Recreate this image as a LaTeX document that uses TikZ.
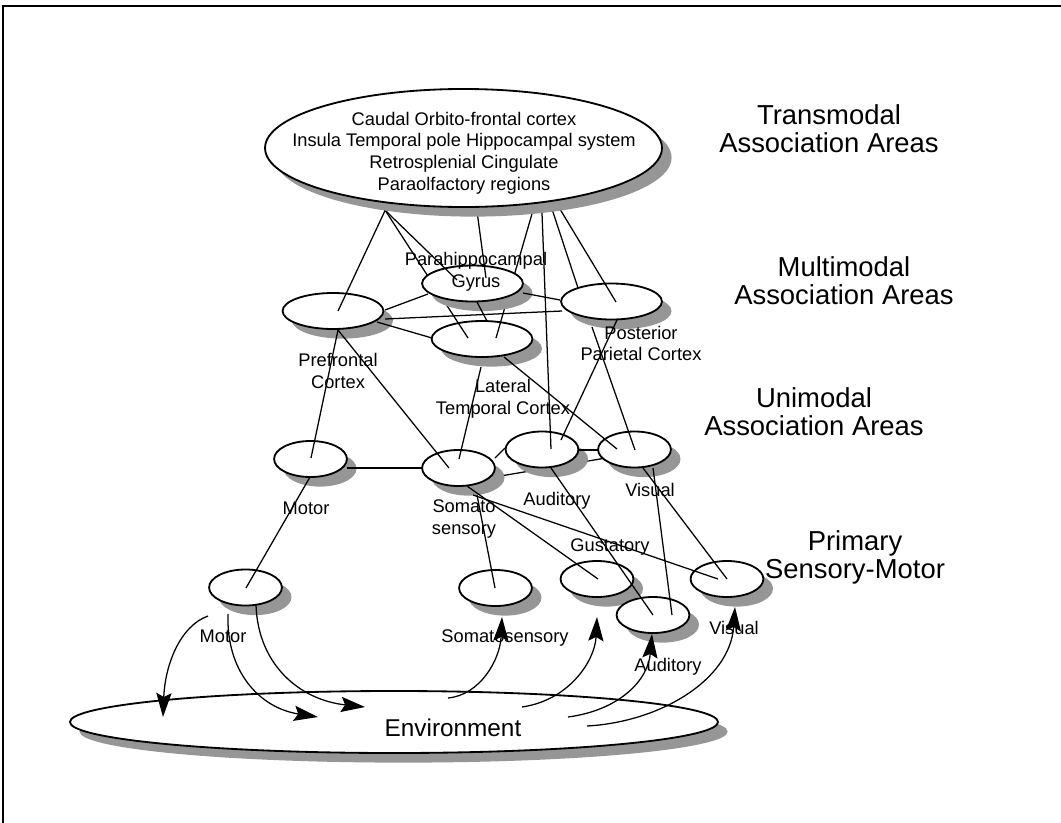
\documentclass[tikz,border=0pt]{standalone}
\usepackage{fontspec}
\setmainfont{Liberation Sans}
\usetikzlibrary{shapes.geometric,shadows,calc,arrows.meta}
\definecolor{shadowgray}{RGB}{150,150,150}
\pgfdeclarelayer{hidden}
\pgfdeclarelayer{front}
\pgfsetlayers{hidden,main,front}

\begin{document}
\begin{tikzpicture}[x=0.025cm,y=-0.025cm,
    blob/.style={ellipse,draw,fill=white,line width=1.3pt,inner sep=0pt,
      drop shadow={shadow xshift=0.24cm,shadow yshift=-0.24cm,fill=shadowgray,opacity=1}},
    multi/.style={blob,minimum width=2.52cm,minimum height=0.9cm},
    uni/.style={blob,minimum width=1.82cm,minimum height=0.9cm},
    wire/.style={line width=0.9pt},
    feed/.style={wire,-{Stealth[length=0.6cm,width=0.38cm,inset=0.1cm]}},
    lbl/.style={font=\fontsize{13}{15.4}\selectfont,align=center,inner sep=0pt},
    tier/.style={font=\fontsize{19.5}{19.8}\selectfont,align=center,inner sep=0pt}]
        \useasboundingbox (0,0) rectangle (1061,823);
        \draw[line width=1.2pt] (3,823) -- (3,6) -- (1061,6);

        \begin{pgfonlayer}{front}
        \node[blob,minimum width=9.92cm,minimum height=2.95cm] (tm) at (463.5,148) {};
        \node[lbl] (tmtext) at (464,153) {Caudal Orbito-frontal cortex\\Insula Temporal pole Hippocampal system\\Retrosplenial Cingulate\\Paraolfactory regions};
        \end{pgfonlayer}

        \node[blob,minimum width=16.2cm,minimum height=1.55cm] (env) at (394,722) {};
        \node[uni] (mp) at (245.5,587.5) {};
        \node[uni] (sp) at (495.5,588) {};
        \node[uni] (gp) at (597,579) {};
        \node[uni] (ap) at (653,615) {};
        \node[uni] (vp) at (727,579) {};
        \node[uni] (mu) at (310.5,459) {};
        \node[uni] (su) at (458.5,468) {};
        \node[uni] (au) at (542,449.5) {};
        \node[uni] (vu) at (634.5,449.5) {};
        \node[multi] (pf) at (333,311) {};
        \node[multi] (pp) at (611.5,301.5) {};
        \node[multi] (lt) at (482,339) {};

        \begin{pgfonlayer}{hidden}
        \draw[wire] ($(su)+(7,14)$) -- ($(vu)+(-14,6)$);
        \end{pgfonlayer}

        \draw[wire] ($(tm)+(-85,52)$) -- ($(lt)+(-14,-1)$);
        \draw[wire] ($(tm)+(72.5,52)$) -- ($(lt)+(14,-1)$);
        \node[multi] (ph) at (472.5,283.5) {};

        \draw[wire] ($(tm)+(-73.5,52)$) -- ($(pf)+(5,0)$);
        \draw[wire] ($(tm)+(-89,52)$) -- ($(ph)+(-15.5,-3.5)$);
        \draw[wire] ($(tm)+(12,52)$) -- ($(ph)+(13.5,-5.5)$);
        \draw[wire] ($(tm)+(78,52)$) -- ($(au)+(9,-0.5)$);
        \draw[wire] ($(tm)+(85.5,52)$) -- ($(pp)+(-33.5,-13.5)$);
        \draw[wire] ($(tm)+(91,52)$) -- ($(pp)+(4.5,0.5)$);

        \draw[wire] ($(pf)+(52,-1)$) -- ($(ph)+(-44.5,10.5)$);
        \draw[wire] ($(pf)+(52,8)$) -- ($(pp)+(-49.5,9.5)$);
        \draw[wire] ($(pf)+(44,11)$) -- ($(lt)+(-50,-1)$);
        \draw[wire] ($(ph)+(50.5,9.5)$) -- ($(pp)+(-51.5,-1.5)$);
        \draw[wire] ($(ph)+(4.5,18.5)$) -- ($(lt)+(5,-18)$);

        \draw[wire] ($(pf)+(5,19)$) -- ($(mu)+(0.5,-1)$);
        \draw[wire] ($(pf)+(5,19)$) -- ($(su)+(-9.5,0)$);
        \draw[wire] ($(lt)+(-1,28)$) -- ($(su)+(0.5,-9)$);
        \draw[wire] ($(lt)+(22,18)$) -- ($(vu)+(-17.5,-0.5)$);
        \draw[wire] ($(pp)+(5.5,18.5)$) -- ($(au)+(19,-9.5)$);
        \draw[wire] ($(pp)+(-19.5,25.5)$) -- ($(vu)+(0.5,0.5)$);

        \draw[wire] ($(mu)+(36.5,9)$) -- ($(su)+(-36.5,0)$);
        \draw[wire] ($(su)+(36.5,-10)$) -- ($(au)+(-37,-1.5)$);
        \draw[wire] ($(au)+(37,0.5)$) -- ($(vu)+(-36.5,0.5)$);

        \draw[wire] ($(mu)+(-0.5,18)$) -- ($(mp)+(0.5,0.5)$);
        \draw[wire] ($(su)+(18.5,27)$) -- ($(sp)+(-0.5,0)$);
        \draw[wire] ($(su)+(8.5,18)$) -- ($(gp)+(1,0)$);
        \draw[wire] ($(su)+(14.5,27)$) -- ($(vp)+(-9,0)$);
        \draw[wire] ($(au)+(9,18.5)$) -- (ap.center);
        \draw[wire] ($(vu)+(18.5,18.5)$) -- ($(ap)+(19,0)$);
        \draw[wire] ($(vu)+(8.5,18.5)$) -- (vp.center);

        \draw[feed] ($(mp)+(-37.5,28.5)$) .. controls +(-28,10) and +(2,-52) .. ($(env)+(-231,-5)$);
        \draw[feed] ($(mp)+(-17.5,26.5)$) .. controls +(-2,58) and +(-58,-9) .. ($(env)+(-76,-5)$);
        \draw[feed] ($(mp)+(10.5,17.5)$) .. controls +(2,60) and +(-65,-7) .. ($(env)+(-29,-15)$);
        \draw[feed] ($(env)+(54,-24)$) .. controls +(32,-3) and +(-2,43) .. ($(sp)+(6.5,29)$);
        \draw[feed] ($(env)+(128,-15)$) .. controls +(48,-7) and +(-2,43) .. ($(gp)+(0,38)$);
        \draw[feed] ($(env)+(174,-5)$) .. controls +(52,-7) and +(-4,46) .. ($(ap)+(-1,19)$);
        \draw[feed] ($(env)+(193,4)$) .. controls +(73,-4) and +(-5,73) .. ($(vp)+(8,28)$);

        \node[tier] (transmodal) at (829,129) {Transmodal\\Association Areas};
        \node[tier] (multimodal) at (844,281) {Multimodal\\Association Areas};
        \node[tier] (unimodal) at (814,412) {Unimodal\\Association Areas};
        \node[tier] (primary) at (855,557) {Primary\\Sensory-Motor};
        \node[font=\fontsize{17.3}{20}\selectfont,inner sep=0pt] (envtext) at (453,728) {Environment};

        \node[lbl] (phlabel) at (476,271.5) {Parahippocampal\\Gyrus};
        \node[lbl] (pflabel) at (338,371) {Prefrontal\\Cortex};
        \node[lbl] (pplabel) at (641,343.5) {Posterior\\Parietal Cortex};
        \node[lbl] (ltlabel) at (503,398.5) {Lateral\\Temporal Cortex};
        \node[lbl] (mulabel) at (306,508) {Motor};
        \node[lbl] (sulabel) at (464,519) {Somato\\sensory};
        \node[lbl] (aulabel) at (557,501) {Auditory};
        \node[lbl] (vulabel) at (650,489.5) {Visual};
        \node[lbl] (gplabel) at (610,547) {Gustatory};
        \node[lbl] (mplabel) at (223,636) {Motor};
        \node[lbl] (splabel) at (505,638.5) {Somatosensory};
        \node[lbl] (aplabel) at (668,667) {Auditory};
        \node[lbl] (vplabel) at (734,627.5) {Visual};
    \end{tikzpicture}
\end{document}
